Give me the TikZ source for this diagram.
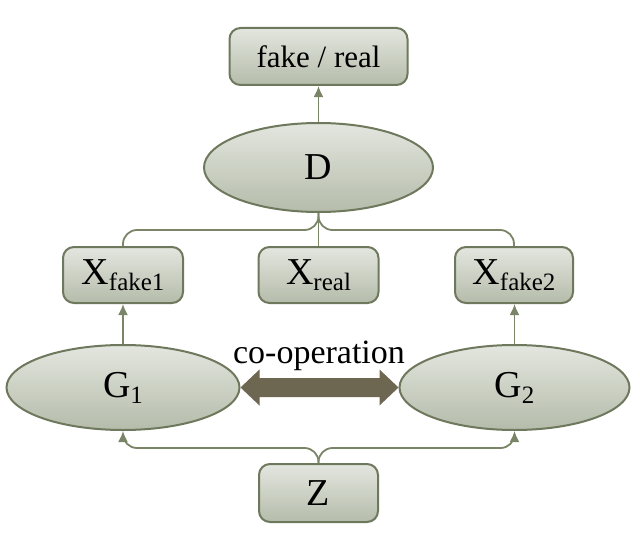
\documentclass[tikz,border=0pt]{standalone}
\usepackage{fontspec}
\setmainfont{Liberation Serif}
\usetikzlibrary{shapes.geometric,arrows.meta,calc}
\definecolor{boxtop}{HTML}{E3E6DF}
\definecolor{boxbot}{HTML}{B5BCAA}
\definecolor{boxline}{HTML}{6E785C}
\definecolor{conn}{HTML}{7A8466}
\definecolor{coop}{HTML}{6D6650}
\newcommand\mysub[1]{{\fontsize{25}{25}\selectfont\raisebox{-6pt}{#1}}}
\tikzset{
  x=1pt, y=-1pt,
  gbox/.style={draw=boxline, line width=2pt, top color=boxtop, bottom color=boxbot,
    rounded corners=11pt, inner sep=0pt, font=\fontsize{38}{42}\selectfont},
  gell/.style={ellipse, draw=boxline, line width=2pt, top color=boxtop, bottom color=boxbot,
    inner sep=0pt, font=\fontsize{38}{42}\selectfont},
  tree/.style={draw=conn, line width=1.8pt, rounded corners=14pt},
  arr/.style={draw=conn, line width=1.8pt, -{Latex[length=11pt,width=10pt]}},
}
\begin{document}
\begin{tikzpicture}
\useasboundingbox (0,0) rectangle (640,535);
% nodes
\node[gbox, minimum width=178pt, minimum height=57pt, font=\fontsize{31}{34}\selectfont] (top) at (318.5,56.5) {fake / real};
\node[gell, minimum width=229pt, minimum height=89pt] (D) at (318.5,167.5) {D};
\node[gbox, minimum width=120pt, minimum height=56pt] (xf1) at (123,275) {X\mysub{fake1}};
\node[gbox, minimum width=120pt, minimum height=56pt] (xr) at (318.5,275) {X\mysub{real}};
\node[gbox, minimum width=118pt, minimum height=56pt] (xf2) at (514,275) {X\mysub{fake2}};
\node[gell, minimum width=233pt, minimum height=85pt] (G1) at (123,387.5) {G\mysub{1}};
\node[gell, minimum width=230pt, minimum height=85pt] (G2) at (514.5,387.5) {G\mysub{2}};
\node[gbox, minimum width=119pt, minimum height=58pt] (Z) at (318.5,493) {Z};
\coordinate (busA) at (0,230);
\coordinate (busB) at (0,448);
% connectors
\draw[arr] (D.north) -- (top.south);
\draw[arr] (G1.north) -- (xf1.south);
\draw[arr] (G2.north) -- (G2.north |- xf2.south);
\draw[tree] (D.south) -- (D.south |- busA) -- (xf1.north |- busA) -- (xf1.north);
\draw[tree] (D.south) -- (D.south |- busA) -- (xf2.north |- busA) -- (xf2.north);
\draw[draw=conn, line width=1.8pt] (D.south) -- (xr.north);
\draw[tree, -{Latex[length=11pt,width=10pt]}] (Z.north) -- (Z.north |- busB) -- (G1.south |- busB) -- (G1.south);
\draw[tree, -{Latex[length=11pt,width=10pt]}] (Z.north) -- (Z.north |- busB) -- (G2.south |- busB) -- (G2.south);
% co-operation double arrow
\fill[coop] (G1.east) -- ++(19,-18) -- ++(0,8.5) -- ($(G2.west)+(-19,-9.5)$) -- ++(0,-8.5)
  -- (G2.west) -- ++(-19,18) -- ++(0,-8.5) -- ($(G1.east)+(19,9.5)$) -- ++(0,8.5) -- cycle;
\node[font=\fontsize{34}{36}\selectfont, inner sep=0pt] (coopl) at (319,356) {co-operation};
\end{tikzpicture}
\end{document}
